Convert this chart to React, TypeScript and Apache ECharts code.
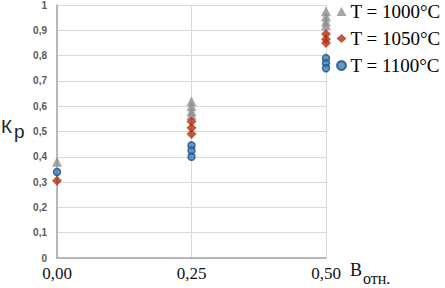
import React, { useEffect, useRef } from "react";
import * as echarts from "echarts";

const xTicks = [0, 0.25, 0.5];
const seriesNames = ["T = 1000°C", "T = 1050°C", "T = 1100°C"];
const t1000: [number, number][] = [
  [0, 0.38],
  [0.25, 0.62], [0.25, 0.6], [0.25, 0.58], [0.25, 0.565],
  [0.5, 0.975], [0.5, 0.955], [0.5, 0.935], [0.5, 0.92],
];
const t1050: [number, number][] = [
  [0, 0.305],
  [0.25, 0.54], [0.25, 0.515], [0.25, 0.49],
  [0.5, 0.885], [0.5, 0.865], [0.5, 0.85],
];
const t1100: [number, number][] = [
  [0, 0.34],
  [0.25, 0.445], [0.25, 0.425], [0.25, 0.4],
  [0.5, 0.79], [0.5, 0.77], [0.5, 0.75],
];

export default function App() {
  const ref = useRef<HTMLDivElement>(null);
  useEffect(() => {
    const chart = echarts.init(ref.current!, null, { renderer: "svg" });
    chart.setOption({
      animation: false,
      grid: { left: 57, right: 119, top: 5, bottom: 30, containLabel: false },
      xAxis: {
        type: "value",
        min: 0,
        max: 0.5,
        interval: 0.25,
        axisLine: { show: true, lineStyle: { color: "#a6a6a6", width: 1.5 } },
        axisTick: { show: false },
        splitLine: { show: true, lineStyle: { color: "#d9d9d9", width: 1 } },
        axisLabel: {
          margin: 7,
          fontFamily: "Liberation Serif",
          fontSize: 17,
          color: "#111",
          formatter: (v: number) => v.toFixed(2).replace(".", ","),
        },
      },
      yAxis: {
        type: "value",
        min: 0,
        max: 1,
        interval: 0.1,
        axisLine: { show: true, lineStyle: { color: "#a6a6a6", width: 1.5 } },
        axisTick: { show: false },
        splitLine: { show: true, lineStyle: { color: "#d9d9d9", width: 1 } },
        axisLabel: {
          margin: 10,
          fontFamily: "Liberation Sans",
          fontWeight: "bold",
          fontSize: 10,
          color: "#595959",
          formatter: (v: number) =>
            Math.abs(v) < 1e-9 ? "0" : Math.abs(v - 1) < 1e-9 ? "1" : v.toFixed(1).replace(".", ","),
        },
      },
      legend: {
        orient: "vertical",
        left: 331,
        top: -3,
        itemWidth: 10,
        itemHeight: 9,
        itemGap: 8,
        textStyle: { fontFamily: "Liberation Serif", fontSize: 19, color: "#000", padding: [0, 0, 0, -1] },
        data: [
          { name: seriesNames[0], icon: "triangle" },
          { name: seriesNames[1], icon: "diamond" },
          { name: seriesNames[2], icon: "circle" },
        ],
      },
      series: [
        {
          name: seriesNames[0],
          type: "scatter",
          symbol: "triangle",
          symbolSize: 10,
          itemStyle: { color: "#8f8f8f" },
          data: t1000,
        },
        {
          name: seriesNames[1],
          type: "scatter",
          symbol: "diamond",
          symbolSize: 10,
          itemStyle: { color: "#b3300d" },
          data: t1050,
        },
        {
          name: seriesNames[2],
          type: "scatter",
          symbol: "circle",
          symbolSize: 7,
          itemStyle: { color: "#3c7fc0", borderColor: "#1f4e79", borderWidth: 1.5 },
          data: t1100,
        },
      ],
      graphic: [
        {
          type: "text",
          left: 1,
          top: 117,
          style: { text: "К", fontFamily: "Liberation Sans", fontSize: 19, fill: "#222" },
        },
        {
          type: "text",
          left: 14,
          top: 122,
          style: { text: "р", fontFamily: "Liberation Sans", fontSize: 19, fill: "#222" },
        },
        {
          type: "text",
          left: 350,
          top: 261,
          style: { text: "В", fontFamily: "Liberation Serif", fontSize: 18, fill: "#111" },
        },
        {
          type: "text",
          left: 363,
          top: 270,
          style: { text: "отн.", fontFamily: "Liberation Serif", fontSize: 16, fill: "#111" },
        },
      ],
    });
    return () => chart.dispose();
  }, []);
  return (
    <div
      ref={ref}
      style={{ position: "absolute", left: 0, top: 0, width: 445, height: 288 }}
    />
  );
}
